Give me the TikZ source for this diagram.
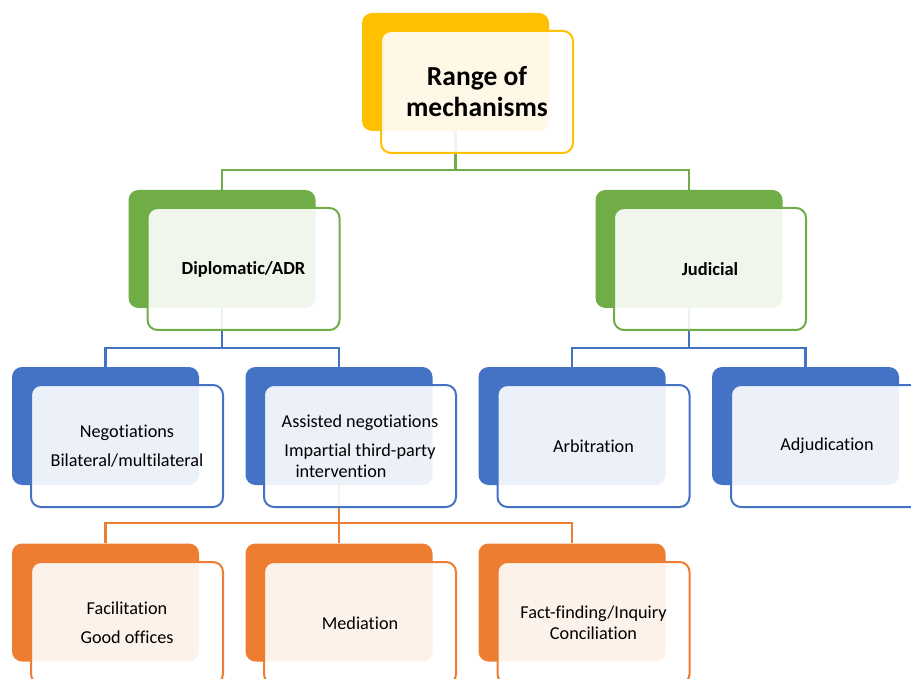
\documentclass[tikz,border=0pt]{standalone}
\usepackage{fontspec}
\setmainfont{Carlito}[Ligatures={NoCommon}]
\definecolor{cyel}{HTML}{FFC000}
\definecolor{cgrn}{HTML}{70AD47}
\definecolor{cblu}{HTML}{4472C4}
\definecolor{corg}{HTML}{ED7D31}
\begin{document}
\begin{tikzpicture}[x=1pt,y=-1pt,
  back/.style={rectangle, rounded corners=10pt, fill=#1, draw=none, minimum width=187pt, minimum height=118pt, inner sep=0pt},
  front/.style={rectangle, rounded corners=10pt, draw=#1, line width=2pt, fill=white, fill opacity=0.9, text opacity=1, minimum width=192pt, minimum height=122pt, inner sep=0pt, align=center, font=\fontsize{18.2}{21}\selectfont},
  conn/.style={draw=#1, line width=2.2pt},
]
\clip (0,0) rectangle (911,679);
\fill[white] (0,0) rectangle (911,679);
% back boxes
\node[back=cyel] (topB) at (455.5,72) {};
\node[back=cgrn] (dipB) at (222,249) {};
\node[back=cgrn] (judB) at (689,249) {};
\node[back=cblu] (negB) at (105.5,426) {};
\node[back=cblu] (assB) at (339,426) {};
\node[back=cblu] (arbB) at (572,426) {};
\node[back=cblu] (adjB) at (805.5,426) {};
\node[back=corg] (facB) at (105.5,602.5) {};
\node[back=corg] (medB) at (339,602.5) {};
\node[back=corg] (facfB) at (572,602.5) {};
% connectors
\draw[conn=cgrn] (topB.south) -- (topB.south |- 0,170) -| (dipB.north);
\draw[conn=cgrn] (topB.south) -- (topB.south |- 0,170) -| (judB.north);
\draw[conn=cblu] (dipB.south) -- (dipB.south |- 0,348) -| (negB.north);
\draw[conn=cblu] (dipB.south) -- (dipB.south |- 0,348) -| (assB.north);
\draw[conn=cblu] (judB.south) -- (judB.south |- 0,348) -| (arbB.north);
\draw[conn=cblu] (judB.south) -- (judB.south |- 0,348) -| (adjB.north);
\draw[conn=corg] (assB.south) -- (assB.south |- 0,523) -| (facB.north);
\draw[conn=corg] (assB.south) -- (assB.south |- 0,523) -| (medB.north);
\draw[conn=corg] (assB.south) -- (assB.south |- 0,523) -| (facfB.north);
% front boxes
\node[front=cyel, font=\bfseries\fontsize{27.5}{31}\selectfont] (topF) at (477,92) {Range of\\mechanisms};
\node[front=cgrn, font=\bfseries\fontsize{18.5}{21}\selectfont] (dipF) at (243.5,269) {Diplomatic/ADR};
\node[front=cgrn, font=\bfseries\fontsize{18.5}{21}\selectfont] (judF) at (710,269) {Judicial};
\node[front=cblu] (negF) at (127,446) {Negotiations\\[8pt]Bilateral/multilateral};
\node[front=cblu] (assF) at (360,446) {Assisted negotiations\\[8pt]Impartial third-party\\\hspace*{-38pt}intervention};
\node[front=cblu] (arbF) at (593.5,446) {Arbitration};
\node[front=cblu] (adjF) at (827,446) {Adjudication};
\node[front=corg] (facF) at (127,623) {Facilitation\\[8pt]Good offices};
\node[front=corg] (medF) at (360,623) {Mediation};
\node[front=corg] (facfF) at (593.5,623) {Fact-finding/Inquiry\\Conciliation};
\end{tikzpicture}
\end{document}
